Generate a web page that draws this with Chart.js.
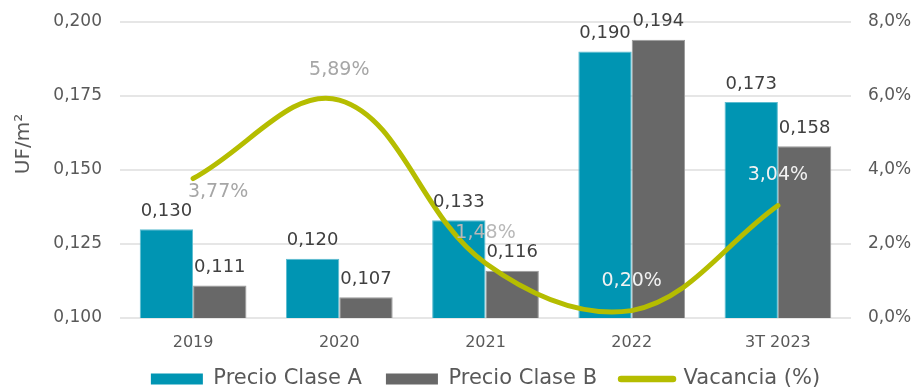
<!DOCTYPE html>
<html>
<head>
<meta charset="utf-8">
<script src="https://cdn.jsdelivr.net/npm/chart.js@4.4.1/dist/chart.umd.min.js"></script>
<style>
  html, body { margin: 0; padding: 0; background: #fff; }
  #wrap { width: 918px; height: 387px; }
</style>
</head>
<body>
<div id="wrap"><canvas id="myChart"></canvas></div>
<script>
const categories = ['2019', '2020', '2021', '2022', '3T 2023'];
const precioA = [0.130, 0.120, 0.133, 0.190, 0.173];
const precioB = [0.111, 0.107, 0.116, 0.194, 0.158];
const vacancia = [3.77, 5.89, 1.48, 0.20, 3.04];
const leftTicks = [0.100, 0.125, 0.150, 0.175, 0.200];
const rightTicks = [0, 2, 4, 6, 8];

const FONT = '"DejaVu Sans", sans-serif';
const TEXT = '#595959';

// colours of the vacancy labels (the last two sit on the bars)
const vacLabelColors = ['#a6a6a6', '#a6a6a6', '#b8b8b8', '#f2f2f2', '#f2f2f2'];

const comma = (v, d) => v.toFixed(d).replace('.', ',');

const labelsPlugin = {
    id: 'labels',
    afterLayout(chart) {
        // pull the legend up a little, closer to the axis labels
        chart.legend.top -= 7.5;
        chart.legend.bottom -= 7.5;
    },
    afterDatasetsDraw(chart) {
        const c = chart.ctx;
        c.save();
        c.textAlign = 'center';
        c.textBaseline = 'middle';
        c.font = '18px ' + FONT;
        c.fillStyle = '#404040';
        [0, 1].forEach(function (di) {
            const values = chart.data.datasets[di].data;
            chart.getDatasetMeta(di).data.forEach(function (bar, i) {
                c.fillText(comma(values[i], 3), bar.x, bar.y - 18);
            });
        });
        c.font = '19px ' + FONT;
        chart.getDatasetMeta(2).data.forEach(function (pt, i) {
            c.fillStyle = vacLabelColors[i];
            if (i === 0) {
                c.fillText(comma(vacancia[i], 2) + '%', pt.x + 25, pt.y + 14);
            } else {
                c.fillText(comma(vacancia[i], 2) + '%', pt.x, pt.y - 30);
            }
        });
        // y axis title
        c.translate(24, 144);
        c.rotate(-Math.PI / 2);
        c.fillStyle = TEXT;
        c.font = '20px ' + FONT;
        c.fillText('UF/m\u00B2', 0, 0);
        c.restore();
    }
};

const ctx = document.getElementById('myChart');

new Chart(ctx, {
    type: 'bar',
    data: {
        labels: categories,
        datasets: [{
            label: 'Precio Clase A',
            data: precioA,
            backgroundColor: '#0095b3',
            borderColor: '#5cbcd0',
            borderWidth: 1,
            yAxisID: 'y',
            order: 1
        }, {
            label: 'Precio Clase B',
            data: precioB,
            backgroundColor: '#686868',
            borderColor: '#9a9a9a',
            borderWidth: 1,
            yAxisID: 'y',
            order: 1
        }, {
            type: 'line',
            label: 'Vacancia (%)',
            data: vacancia,
            borderColor: '#b5bd00',
            backgroundColor: '#b5bd00',
            borderWidth: 5,
            borderCapStyle: 'round',
            tension: 0.38,
            pointRadius: 0,
            yAxisID: 'y1',
            order: 0
        }]
    },
    options: {
        responsive: true,
        maintainAspectRatio: false,
        animation: false,
        layout: { padding: { top: 22, right: 0, left: 0, bottom: -20 } },
        datasets: {
            bar: { categoryPercentage: 0.73, barPercentage: 1 }
        },
        plugins: {
            tooltip: { enabled: false },
            legend: {
                position: 'bottom',
                fullSize: false,
                labels: {
                    font: { family: FONT, size: 21 },
                    color: TEXT,
                    usePointStyle: true,
                    pointStyleWidth: 52,
                    boxHeight: 11,
                    padding: 24,
                    generateLabels: function (chart) {
                        return chart.data.datasets.map(function (ds, i) {
                            const isLine = ds.type === 'line';
                            return {
                                text: ds.label,
                                fillStyle: ds.backgroundColor,
                                strokeStyle: isLine ? ds.borderColor : ds.backgroundColor,
                                lineWidth: isLine ? 6.5 : 0,
                                lineCap: 'round',
                                pointStyle: isLine ? 'line' : 'rect',
                                fontColor: TEXT,
                                datasetIndex: i
                            };
                        });
                    }
                }
            }
        },
        scales: {
            x: {
                grid: { display: false, drawTicks: false },
                border: { display: false },
                ticks: { color: TEXT, font: { family: FONT, size: 16 }, padding: 15 },
                afterFit: function (s) { s.height = 34; s.paddingLeft = 0; s.paddingRight = 0; }
            },
            y: {
                position: 'left',
                min: leftTicks[0],
                max: leftTicks[leftTicks.length - 1],
                afterBuildTicks: function (s) { s.ticks = leftTicks.map(v => ({ value: v })); },
                grid: { color: '#e6e6e6', lineWidth: 2, drawTicks: false },
                border: { display: false },
                ticks: {
                    color: TEXT, font: { family: FONT, size: 17 }, padding: 18,
                    callback: function (value) { return comma(value, 3); }
                },
                afterFit: function (s) { s.width = 120; s.paddingTop = 0; s.paddingBottom = 0; }
            },
            y1: {
                position: 'right',
                min: rightTicks[0],
                max: rightTicks[rightTicks.length - 1],
                afterBuildTicks: function (s) { s.ticks = rightTicks.map(v => ({ value: v })); },
                grid: { display: false, drawTicks: false },
                border: { display: false },
                ticks: {
                    color: TEXT, font: { family: FONT, size: 17 }, padding: 17,
                    callback: function (value) { return comma(value, 1) + '%'; }
                },
                afterFit: function (s) { s.width = 67; s.paddingTop = 0; s.paddingBottom = 0; }
            }
        }
    },
    plugins: [labelsPlugin]
});
</script>
</body>
</html>
